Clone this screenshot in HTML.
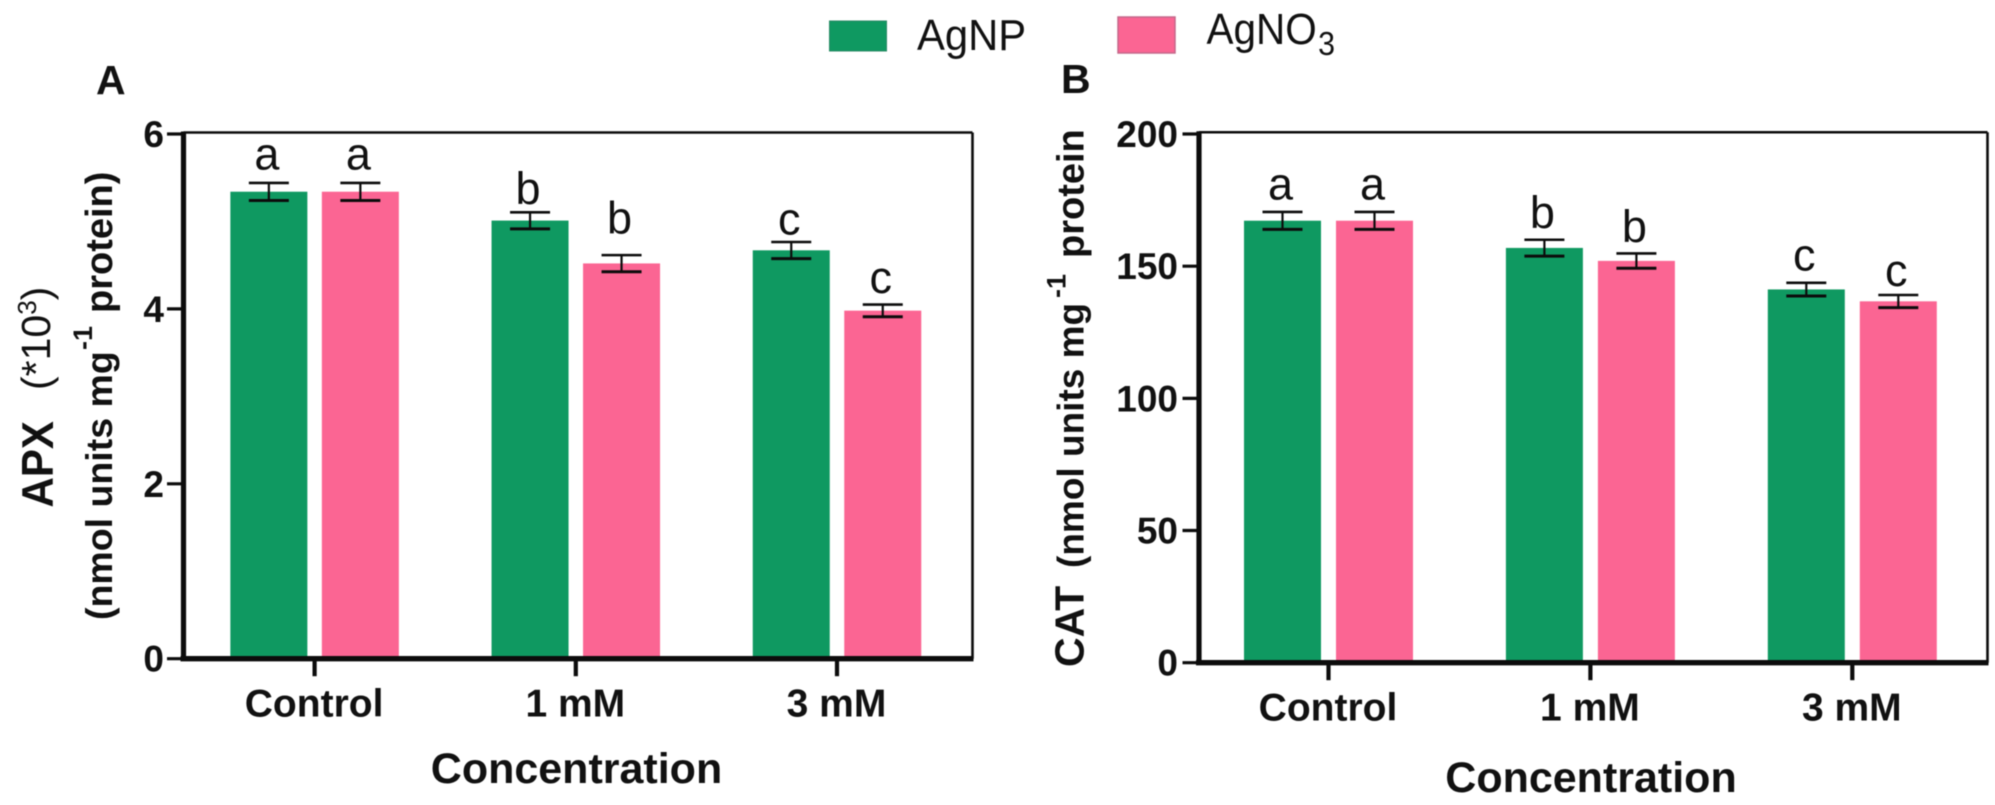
<!DOCTYPE html>
<html lang="en">
<head>
<meta charset="utf-8">
<title>APX and CAT activity</title>
<style>
  html, body { margin: 0; padding: 0; background: #fff; }
  #figure { display: block; width: 1995px; height: 805px; filter: blur(0.5px); }
  text { font-family: "Liberation Sans", sans-serif; fill: #111; }
  .b { font-weight: bold; }
</style>
</head>
<body>
<svg id="figure" xmlns="http://www.w3.org/2000/svg" width="1995" height="805" viewBox="0 0 1995 805">
  <rect x="0" y="0" width="1995" height="805" fill="#fff"/>

  <g>
    <rect x="829.5" y="21" width="57" height="30" fill="#0f9961" stroke="#2b8a66" stroke-width="1"/>
    <text transform="translate(917 50) scale(0.95 1)" font-size="44">AgNP</text>
    <rect x="1118" y="17" width="57" height="36" fill="#fb6593" stroke="#c4688a" stroke-width="1.5"/>
    <text transform="translate(1206.5 44) scale(0.92 1)" font-size="44">AgNO<tspan font-size="33" dx="1.5" dy="11">3</tspan></text>
  </g>

  <text class="b" x="96" y="94" font-size="41">A</text>
  <text class="b" x="1061" y="93" font-size="41">B</text>

  <g id="panel-a">
    <text class="b" transform="translate(53 507.5) rotate(-90) scale(1 1.06)" font-size="42">APX</text>
    <text transform="translate(50 390) rotate(-90)" font-size="41">(*10<tspan font-size="26" dy="-14">3</tspan><tspan dy="14">)</tspan></text>
    <text class="b" transform="translate(112 620) rotate(-90)"><tspan x="0" font-size="37.5">(nmol units mg</tspan><tspan x="270" dy="-20" font-size="27">-1</tspan><tspan x="307" dy="20" font-size="38">protein)</tspan></text>
    <text class="b" x="576.5" y="783" font-size="43" text-anchor="middle">Concentration</text>
  </g>

  <g id="panel-b">
    <text class="b" transform="translate(1083.3 667) rotate(-90)"><tspan x="0" font-size="41">CAT</tspan><tspan x="99" font-size="37">(nmol units mg</tspan><tspan x="369" dy="-18" font-size="27">-1</tspan><tspan x="409" dy="18" font-size="38">protein</tspan></text>
    <text class="b" x="1591" y="792" font-size="43" text-anchor="middle">Concentration</text>
  </g>
</svg>

<script>
// Shared categories
const categories = ['Control', '1 mM', '3 mM'];

// Panel A: APX
const apxTicks = [0, 2, 4, 6];
const apxAgNP = [5.34, 5.01, 4.67];
const apxAgNO3 = [5.34, 4.52, 3.98];
const apxAgNPErr = [0.10, 0.095, 0.095];
const apxAgNO3Err = [0.10, 0.095, 0.07];
const apxAgNPLetters = ['a', 'b', 'c'];
const apxAgNO3Letters = ['a', 'b', 'c'];
const apxAgNPLetterLevel = [5.595, 5.20, 4.85];
const apxAgNO3LetterLevel = [5.595, 4.86, 4.18];

// Panel B: CAT
const catTicks = [0, 50, 100, 150, 200];
const catAgNP = [167.2, 156.9, 141.2];
const catAgNO3 = [167.2, 152.0, 136.7];
const catAgNPErr = [3.3, 3.1, 2.5];
const catAgNO3Err = [3.3, 2.8, 2.4];
const catAgNPLetters = ['a', 'b', 'c'];
const catAgNO3Letters = ['a', 'b', 'c'];
const catAgNPLetterLevel = [175.2, 164.4, 148.4];
const catAgNO3LetterLevel = [175.2, 159.1, 142.5];

const NS = 'http://www.w3.org/2000/svg';
const GREEN = '#0f9961';
const PINK = '#fb6593';
const INK = '#0c0c0c';

function mk(parent, tag, props, content) {
  const node = document.createElementNS(NS, tag);
  Object.keys(props).forEach(function (k) { node.setAttribute(k, props[k]); });
  if (content !== undefined) node.textContent = content;
  parent.appendChild(node);
  return node;
}

function drawPanel(o) {
  const g = document.getElementById(o.id);
  const yScale = function (v) { return o.y0 - (v / o.yMax) * (o.y0 - o.yTop); };
  const xScale = function (i) { return o.x0 + i * o.step; };

  function drawSeries(values, errs, letters, levels, fill, off, key) {
    values.forEach(function (v, i) {
      const cx = xScale(i) + off;
      const bar = mk(g, 'rect', { x: cx - o.barW / 2, y: yScale(v), width: o.barW, height: o.y0 - yScale(v), fill: fill });
      
      
    });
    values.forEach(function (v, i) {
      const cx = xScale(i) + off;
      const hi = yScale(v + errs[i]);
      const lo = yScale(v - errs[i]);
      const stem = mk(g, 'line', { x1: cx, x2: cx, y1: hi, y2: lo, stroke: INK, 'stroke-width': 2.2 });
      
      
      const top = mk(g, 'line', { x1: cx - 20, x2: cx + 20, y1: hi, y2: hi, stroke: INK, 'stroke-width': 2.6 });
      
      
      const bot = mk(g, 'line', { x1: cx - 20, x2: cx + 20, y1: lo, y2: lo, stroke: INK, 'stroke-width': 3 });
      
      
      const sig = mk(g, 'text', { x: cx - 2, y: yScale(levels[i]), 'font-size': 45, 'text-anchor': 'middle' }, letters[i]);
      
      
    });
  }

  drawSeries(o.seriesA, o.errA, o.lettersA, o.levelsA, GREEN, -o.offset, 'agnp');
  drawSeries(o.seriesB, o.errB, o.lettersB, o.levelsB, PINK, o.offset, 'agno3');

  // frame
  const topLine = mk(g, 'line', { x1: o.left, x2: o.right, y1: o.frameTop, y2: o.frameTop, stroke: INK, 'stroke-width': 2.5 });
  
  
  const rightLine = mk(g, 'line', { x1: o.right, x2: o.right, y1: o.frameTop, y2: o.y0, stroke: INK, 'stroke-width': 2.6 });
  
  
  const yAxis = mk(g, 'line', { x1: o.left, x2: o.left, y1: o.frameTop - 1, y2: o.y0 + 2, stroke: INK, 'stroke-width': 5.2 });
  
  
  const xAxis = mk(g, 'line', { x1: o.left - 3, x2: o.right + 1, y1: o.y0, y2: o.y0, stroke: INK, 'stroke-width': 5.4 });
  
  

  // y ticks
  o.ticks.forEach(function (t) {
    const yy = yScale(t);
    const tick = mk(g, 'line', { x1: o.left - 16.5, x2: o.left, y1: yy, y2: yy, stroke: INK, 'stroke-width': 3.2 });
    
    
    const lab = mk(g, 'text', { x: o.left - o.labelGap, y: yy + 13, 'font-size': 37, 'font-weight': 'bold', 'text-anchor': 'end' }, String(t));
    
    
  });

  // x ticks
  categories.forEach(function (c, i) {
    const xx = xScale(i);
    const tick = mk(g, 'line', { x1: xx, x2: xx, y1: o.y0, y2: o.y0 + 17.5, stroke: INK, 'stroke-width': 4.2 });
    
    
    const lab = mk(g, 'text', { x: xx - 0.5, y: o.y0 + 58, 'font-size': 39, 'font-weight': 'bold', 'text-anchor': 'middle' }, c);
    
    
  });
}

drawPanel({
  id: 'panel-a', ticks: apxTicks, yMax: 6, y0: 658.7, yTop: 134, frameTop: 132.5, labelGap: 19.5,
  left: 183.5, right: 972.5, x0: 314.6, step: 261.2, offset: 45.75, barW: 77,
  seriesA: apxAgNP, errA: apxAgNPErr, lettersA: apxAgNPLetters, levelsA: apxAgNPLetterLevel,
  seriesB: apxAgNO3, errB: apxAgNO3Err, lettersB: apxAgNO3Letters, levelsB: apxAgNO3LetterLevel
});

drawPanel({
  id: 'panel-b', ticks: catTicks, yMax: 200, y0: 662.7, yTop: 134, frameTop: 132.3, labelGap: 21,
  left: 1199, right: 1987.5, x0: 1328.5, step: 261.9, offset: 46, barW: 77,
  seriesA: catAgNP, errA: catAgNPErr, lettersA: catAgNPLetters, levelsA: catAgNPLetterLevel,
  seriesB: catAgNO3, errB: catAgNO3Err, lettersB: catAgNO3Letters, levelsB: catAgNO3LetterLevel
});
</script>
</body>
</html>
